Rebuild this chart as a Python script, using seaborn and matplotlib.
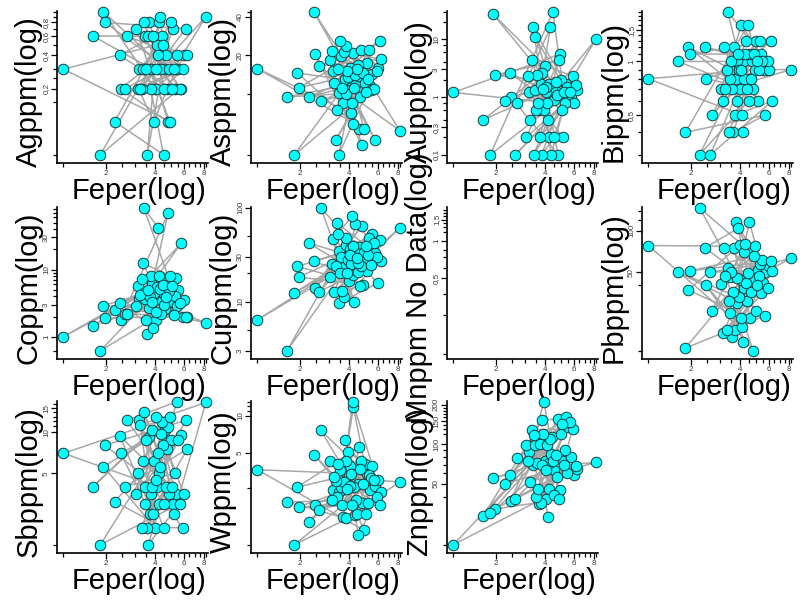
import matplotlib
matplotlib.use("Agg")
import numpy as np
import pandas as pd
import matplotlib.pyplot as plt
import seaborn as sns
from matplotlib.ticker import FixedLocator, FixedFormatter, NullFormatter

# ---- sample data (one row per sample, sorted by Fe) ----
fe_pct = [1.09, 1.66, 1.84, 1.92, 1.96, 2.25, 2.42, 2.46, 2.62, 2.68,
          3.06, 3.14, 3.20, 3.24, 3.30, 3.35, 3.40, 3.45, 3.48, 3.53,
          3.58, 3.62, 3.66, 3.71, 3.75, 3.80, 3.84, 3.89, 3.93, 3.97,
          4.02, 4.07, 4.11, 4.16, 4.20, 4.25, 4.31, 4.36, 4.41, 4.46,
          4.50, 4.56, 4.62, 4.68, 4.74, 4.80, 4.86, 4.92, 4.98, 5.05,
          5.12, 5.20, 5.28, 5.35, 5.45, 5.55, 5.66, 5.78, 5.90, 6.02,
          6.15, 6.30, 8.2]

# position of each sample along the traverse (lines join consecutive samples)
sample_no = [37, 12, 55, 3, 48, 21, 60, 9, 33, 44,
             17, 26, 5, 51, 39, 14, 62, 30, 8, 46,
             23, 57, 1, 35, 19, 42, 11, 59, 27, 4,
             50, 16, 38, 63, 24, 7, 45, 31, 13, 54,
             20, 41, 2, 58, 28, 10, 47, 36, 22, 61,
             6, 53, 32, 15, 43, 25, 56, 18, 40, 29,
             49, 34, 52]

ag_ppm = [0.3, 0.6, 0.05, 1.0, 0.8, 0.1, 0.4, 0.2, 0.2, 0.6,
          0.7, 0.2, 0.3, 0.2, 0.2, 0.3, 0.8, 0.6, 0.3, 0.3,
          0.05, 0.6, 0.8, 0.3, 0.2, 0.6, 0.3, 0.6, 0.1, 0.2,
          0.3, 0.2, 0.5, 0.4, 0.8, 0.3, 0.9, 0.3, 0.6, 0.5,
          0.05, 0.2, 0.3, 0.4, 0.2, 0.1, 0.3, 0.1, 0.8, 0.2,
          0.7, 0.3, 0.2, 0.3, 0.4, 0.3, 0.2, 0.2, 0.3, 0.4,
          0.7, 0.4, 0.9]

as_ppm = [15.7, 9.4, 3.3, 14.5, 11.1, 9.4, 44, 20.4, 16.5, 8.8,
          18.5, 21.6, 15, 12, 4.3, 7.4, 15.5, 3.3, 10.1, 25.8,
          19.8, 11.1, 8.4, 21.2, 13, 23.7, 10, 15, 13.5, 12.7,
          16, 13.7, 7.0, 8.4, 20.9, 5.8, 11.1, 14, 12, 15.7,
          13.7, 16.7, 5.3, 9.4, 22.1, 3.9, 14.5, 5.3, 12.2, 10.3,
          17.5, 13, 22, 11.5, 10.7, 14.2, 10.9, 4.3, 15, 16,
          25.8, 18.6, 5.1]

au_ppb = [1.2, 0.4, 0.1, 27, 2.4, 0.85, 2.6, 1.0, 0.1, 0.8,
          0.2, 2.3, 1.2, 0.4, 4.3, 16, 0.1, 11, 1.3, 0.6,
          2.4, 0.8, 0.6, 0.2, 1.7, 0.1, 2.6, 1.4, 0.6, 3.5,
          1.5, 1.2, 0.8, 0.4, 1.7, 0.2, 16, 0.1, 1.4, 30,
          0.9, 0.2, 1.3, 1.8, 1.1, 0.1, 4.3, 5.5, 2.0, 0.6,
          0.2, 1.2, 0.8, 1.7, 1.5, 0.9, 1.2, 1.0, 2.3, 0.8,
          1.6, 1.3, 10]

bi_ppm = [0.8, 1.0, 0.4, 1.2, 1.1, 0.3, 1.2, 0.8, 0.3, 0.5,
          0.7, 0.6, 1.2, 0.7, 0.9, 1.9, 0.4, 0.8, 0.9, 1.0,
          0.7, 0.4, 1.2, 0.5, 0.8, 0.6, 1.0, 1.1, 0.9, 0.7,
          0.9, 1.6, 0.5, 0.4, 0.8, 1.0, 1.1, 1.3, 0.7, 1.6,
          0.6, 1.1, 0.8, 0.8, 1.0, 0.7, 1.1, 0.9, 1.3, 1.0,
          0.6, 0.9, 1.3, 1.1, 1.0, 0.9, 0.5, 0.9, 1.0, 0.9,
          1.3, 0.6, 0.9]

co_ppm = [1.0, 1.45, 0.62, 2.9, 1.9, 2.5, 3.2, 1.8, 2.2, 2.2,
          2.9, 5.6, 3.7, 4.2, 7.3, 12.4, 83, 4.6, 3.7, 1.8,
          1.1, 5.0, 2.7, 3.9, 8.1, 3.3, 6.1, 1.35, 4.5, 4.9,
          2.3, 1.8, 5.5, 42, 8.1, 3.8, 5.2, 2.2, 3.4, 5.9,
          4.3, 3.0, 2.6, 3.9, 6.5, 69, 4.8, 8.1, 4.6, 5.7,
          3.3, 2.1, 4.0, 7.5, 2.9, 5.0, 3.2, 24.5, 2.0, 3.5,
          2.0, 2.0, 1.6]

cu_ppm = [6.4, 3.0, 12.4, 23.7, 18.3, 42, 26.8, 13.9, 12.8, 100,
          18.5, 25, 47, 12.8, 24, 69, 53, 9.6, 35, 20,
          30, 13.1, 35, 11.1, 24, 48, 40, 20, 28, 16.7,
          31, 36, 25, 81, 39, 19, 10, 67, 33, 29,
          20.5, 26, 38, 14.5, 24, 64, 15, 34, 28, 39,
          21, 31, 48, 37, 24.5, 53, 42, 33, 30, 15.8,
          45, 27, 61]

pb_ppm = [78, 50, 14, 37, 51, 147, 75, 40, 50, 26,
          41, 18, 75, 47, 19, 54, 31, 46, 25, 50,
          17, 36, 75, 19, 115, 45, 30, 104, 33, 79,
          23, 44, 20, 15.5, 70, 38, 80, 42, 31, 49,
          72, 115, 23, 36, 45, 13.4, 65, 77, 26, 40,
          52, 47, 57, 35, 61, 42, 24, 50, 38, 55,
          60, 51, 63]

sb_ppm = [7.0, 4.0, 1.5, 5.6, 8.0, 3.1, 9.4, 7.0, 4.0, 12.2,
          3.5, 5.0, 12.3, 11.3, 2.0, 6.1, 14.1, 4.0, 3.0, 8.8,
          2.0, 1.5, 9.2, 2.5, 3.5, 4.0, 10.4, 2.5, 6.1, 2.0,
          4.5, 12.8, 4.0, 7.0, 5.0, 3.0, 5.6, 9.7, 11.8, 8.1,
          2.0, 3.0, 10.4, 4.0, 7.5, 10.9, 3.5, 12.8, 8.7, 4.0,
          3.0, 2.5, 5.0, 3.5, 16.7, 8.7, 3.0, 9.5, 2.0, 3.5,
          12.2, 7.5, 16.5]

w_ppm = [3.65, 2.0, 0.9, 2.64, 1.83, 1.38, 4.85, 1.88, 1.72, 7.6,
         4.3, 2.06, 2.5, 3.2, 2.96, 2.2, 4.07, 3.0, 2.4, 3.6,
         2.64, 1.88, 1.52, 2.9, 6.4, 4.3, 1.47, 2.56, 5.1, 3.3,
         2.7, 3.95, 3.4, 1.88, 13, 11.7, 2.64, 1.56, 2.06, 1.6,
         2.8, 1.07, 5.6, 3.7, 4.3, 1.95, 2.8, 1.18, 4.1, 1.6,
         3.4, 1.95, 3.3, 2.5, 3.1, 3.95, 3.0, 2.7, 2.2, 3.0,
         1.88, 2.4, 2.9]

zn_ppm = [17.2, 28.4, 30, 55, 32.2, 50, 58, 37, 38.5, 79,
          98, 75, 88, 52, 129, 70, 117, 98, 104, 40,
          72, 46, 35, 101, 36, 70, 153, 120, 211, 74,
          64, 38, 98, 28, 72, 46, 110, 85, 113, 74,
          64, 41, 77, 83, 56, 156, 38, 45, 120, 143,
          74, 69, 90, 160, 60, 135, 147, 80, 131, 58,
          68, 65, 73]

# panel order: (axis title, column, labelled y ticks, other y ticks)
panels = [
    ("Agppm(log)", "Ag", [0.2, 0.4, 0.6, 0.8], [0.05, 0.15, 0.25, 0.3, 0.5, 0.7, 0.9, 1.0]),
    ("Asppm(log)", "As", [20, 40], [3.3, 10, 44]),
    ("Auppb(log)", "Au", [0.1, 0.3, 1, 3, 10], [0.2, 0.4, 0.6, 0.8, 2, 4, 6, 8, 20, 30]),
    ("Bippm(log)", "Bi", [0.5, 1, 1.5], [0.3, 0.4, 0.6, 0.7, 0.8, 0.9, 1.1, 1.2, 1.3, 1.4, 1.6, 1.7, 1.8, 1.9]),
    ("Coppm(log)", "Co", [1, 3, 10, 30], [0.62, 2, 4, 5, 6, 7, 8, 9, 20, 40, 50, 60, 70, 80]),
    ("Cuppm(log)", "Cu", [3, 10, 30, 100], [5, 20, 50]),
    ("Mnppm No Data(log)", None, [0.5, 1, 1.5], [0.12, 0.25, 0.375, 0.6, 0.75, 0.85, 1.2, 1.3, 1.4, 1.6, 1.7, 1.8]),
    ("Pbppm(log)", "Pb", [50, 100], [13.4, 40, 120, 140]),
    ("Sbppm(log)", "Sb", [5, 10, 15], [1.5, 11, 12, 13, 14, 16]),
    ("Wppm(log)", "W", [5, 10], [0.9, 2.6, 11, 12, 13]),
    ("Znppm(log)", "Zn", [50, 100, 150, 200], [17, 40, 60, 70, 80, 90, 120, 130, 140, 160, 170, 180, 190]),
]

fe_major = [2, 4, 6, 8]
fe_minor = [1.09, 2.5, 3, 3.5, 4.5, 5, 5.5, 6.5, 7, 7.5, 8.2]

df = pd.DataFrame({
    "sample_no": sample_no, "Fe": fe_pct,
    "Ag": ag_ppm, "As": as_ppm, "Au": au_ppb, "Bi": bi_ppm, "Co": co_ppm,
    "Cu": cu_ppm, "Pb": pb_ppm, "Sb": sb_ppm, "W": w_ppm, "Zn": zn_ppm,
}).sort_values("sample_no")

sns.set_theme(style="ticks")
plt.rcParams["font.family"] = ["Liberation Sans", "DejaVu Sans"]

FIG_W, FIG_H = 805, 605
fig = plt.figure(figsize=(FIG_W / 100, FIG_H / 100), dpi=100)
fig.patch.set_facecolor("white")

col_left = [57, 251, 447, 642]
row_top = [11, 207, 401]
AX_W, AX_H = 151, 152


def comma(v):
    return f"{v:g}".replace(".", ",")


def log_limits(lo, hi, pad_lo, pad_hi):
    span = np.log10(hi / lo)
    return lo / 10 ** (span * pad_lo), hi * 10 ** (span * pad_hi)


x_lim = log_limits(min(fe_pct), max(fe_pct), 0.045, 0.015)

for i, (title, col, y_major, y_minor) in enumerate(panels):
    r, c = divmod(i, 4)
    ax = fig.add_axes([col_left[c] / FIG_W, 1 - (row_top[r] + AX_H) / FIG_H,
                       AX_W / FIG_W, AX_H / FIG_H])
    ax.set_facecolor("white")
    ax.set_xscale("log")
    ax.set_yscale("log")

    if col is not None:
        sns.lineplot(data=df, x="Fe", y=col, sort=False, estimator=None,
                     color="#a8a8a8", linewidth=1.1, ax=ax, zorder=1)
        sns.scatterplot(data=df, x="Fe", y=col, color="#00ffff",
                        edgecolor="#1d3b3b", linewidth=0.7, s=58, ax=ax,
                        zorder=2, clip_on=False)
        ax.set_ylim(*log_limits(df[col].min(), df[col].max(), 0.058, 0.005))
    else:
        ax.set_ylim(0.11, 1.9)
    ax.set_xlim(*x_lim)

    ax.xaxis.set_major_locator(FixedLocator(fe_major))
    ax.xaxis.set_major_formatter(FixedFormatter([comma(v) for v in fe_major]))
    ax.xaxis.set_minor_locator(FixedLocator(fe_minor))
    ax.xaxis.set_minor_formatter(NullFormatter())
    ax.yaxis.set_major_locator(FixedLocator(y_major))
    ax.yaxis.set_major_formatter(FixedFormatter([comma(v) for v in y_major]))
    ax.yaxis.set_minor_locator(FixedLocator(y_minor))
    ax.yaxis.set_minor_formatter(NullFormatter())

    ax.tick_params(which="both", direction="out", color="black", width=0.9,
                   labelsize=5.8, labelcolor="#3a3a3a", pad=1)
    ax.tick_params(which="major", length=4)
    ax.tick_params(which="minor", length=3)
    for lab in ax.get_yticklabels():
        lab.set_rotation(90)
        lab.set_va("center")
        lab.set_ha("right")

    for side in ("top", "right"):
        ax.spines[side].set_visible(False)
    for side in ("left", "bottom"):
        ax.spines[side].set_color("black")
        ax.spines[side].set_linewidth(1.2)

    ax.set_xlabel("Feper(log)", fontsize=21, color="black")
    ax.set_ylabel(title, fontsize=21, color="black")
    ax.xaxis.set_label_coords(0.54, -0.09)
    ax.yaxis.set_label_coords(-0.094, 0.47)

fig.savefig("out.png", dpi=100, facecolor="white")
